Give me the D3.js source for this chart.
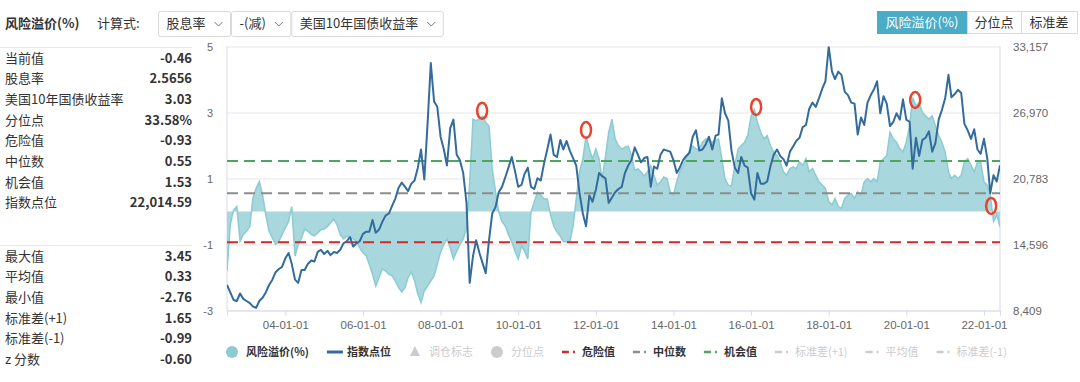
<!DOCTYPE html>
<html>
<head>
<meta charset="utf-8">
<title>风险溢价</title>
<script src="https://cdn.jsdelivr.net/npm/d3@7"></script>
<style>
  body { margin: 0; background: #fff; }
  svg { display: block; font-family: 'Noto Sans CJK SC', 'Noto Sans', sans-serif; }
  .num { font-family: 'Liberation Sans', 'Noto Sans', sans-serif; }
</style>
</head>
<body>
<script>
// monthly points, 2002-07 .. 2022-06 (240 months)
const months = d3.timeMonth.range(new Date(2002, 6, 1), new Date(2022, 6, 1));

// 指数点位 (right axis), one value per month
const indexPoints = [
  10800, 10100, 9400, 9300, 10000, 9500,
  9300, 9100, 8800, 8650, 9300, 9600, 10100, 10800, 11300, 12000, 12300, 12500,
  13300, 13800, 12800, 11300, 11000, 12200, 12200, 12800, 13100, 13000, 13900, 14100,
  13700, 14000, 13600, 13900, 13800, 14100, 14700, 14900, 15300, 14400, 14700, 14900,
  15600, 15800, 15800, 16900, 15700, 16000, 16700, 17300, 17500, 18200, 18900, 19900,
  20400, 20000, 19600, 20300, 20600, 21800, 23500, 20700, 26000, 31600, 28000, 27500,
  24700, 23500, 22000, 25500, 26300, 23000, 22500, 21300, 18500, 11000, 13500, 15000,
  13800, 12800, 11900, 15000, 17500, 18100, 19500, 20000, 20900, 21800, 22800, 21500,
  20000, 20200, 21200, 21800, 20000, 19800, 20800, 20600, 22200, 23500, 24900, 23000,
  22800, 24400, 23500, 24300, 23400, 22700, 22000, 19400, 17500, 16300, 19200, 18600,
  19700, 21300, 21000, 20800, 18500, 19000, 19500, 19800, 20000, 21300, 22000, 22500,
  23700, 23000, 22300, 22700, 22800, 20000, 21900, 21700, 23000, 23500, 23400, 23300,
  22500, 21300, 21800, 22500, 22900, 23200, 24700, 25300, 23400, 23500, 24000, 24700,
  23500, 24800, 24900, 28300, 26900, 26200, 23400, 21800, 21300, 22800, 22000, 21800,
  19400, 18800, 21300, 20300, 20300, 20500, 21900, 23000, 23500, 22900, 22600, 22000,
  23300, 23800, 24300, 24600, 25600, 25800, 27300, 27900, 27500, 28300, 29200, 29900,
  33150, 30800, 30100, 30800, 30500, 28900, 28600, 27900, 27800, 24900, 26500, 25800,
  27900, 28600, 29100, 29900, 26900, 28500, 27800, 25700, 26100, 26900, 26300, 28200,
  26300, 26100, 21700, 24600, 22900, 24400, 24600, 25200, 23300, 24100, 26300, 27200,
  28300, 30500, 28400, 28700, 29100, 28800, 25900, 25300, 24500, 25400, 23500, 23100,
  24500, 22700, 19400, 21100, 20500, 22015
];

// 风险溢价(%) (left axis), one value per month
const riskPremium = [
  -1.8, -0.4, 0.05, 0.15, -0.9, -0.7,
  -0.6, -0.45, 0.4, 0.7, 0.9, 0.5, -0.1, -0.6, -0.8, -1.0, -0.9, -0.7,
  -0.5, -0.3, 0.15, -1.35, -1.0, -0.8, -0.53, -0.6, -0.7, -0.74, -0.65, -0.55,
  -0.53, -0.45, -0.35, -0.23, -0.4, -0.7, -0.83, -0.75, -0.8, -0.83, -0.9, -1.1,
  -1.25, -1.35, -1.6, -1.9, -2.26, -2.0, -1.74, -1.8, -1.9, -1.95, -2.1, -2.3,
  -2.44, -2.3, -2.0, -1.83, -2.1, -2.5, -2.76, -2.4, -2.26, -2.1, -1.95, -1.6,
  -1.23, -1.0, -0.83, -1.1, -1.44, -1.2, -1.0, -0.83, -0.5, 0.89, 2.8, 2.75,
  2.8, 2.89, 2.7, 2.59, 1.29, 0.6, 0.0, -0.3, -0.44, -0.7, -0.92, -1.2,
  -1.44, -1.04, -1.2, -1.44, -0.02, 0.3, 0.59, 0.5, 0.38, 0.38, -0.1, -0.44,
  -0.62, -0.75, -0.92, -0.92, -0.92, -0.44, 0.38, 1.2, 1.59, 2.29, 1.9, 1.59,
  1.89, 1.6, 0.98, 1.68, 2.4, 2.8, 2.2, 2.0, 1.89, 1.95, 1.98, 1.7,
  1.25, 1.29, 1.2, 1.08, 1.2, 1.38, 1.1, 0.8, 0.9, 1.05, 1.0, 0.6,
  0.5, 0.9, 1.2, 1.4, 1.6, 1.85, 1.98, 1.9, 1.89, 2.1, 2.2, 2.15,
  2.1, 2.15, 2.2, 1.6, 0.98, 0.8, 0.77, 1.4, 1.89, 2.0, 2.1, 2.3,
  2.89, 3.1, 2.7, 2.4, 2.2, 2.3, 2.0, 1.8, 1.7, 1.5, 1.2, 1.1,
  1.3, 1.35, 1.3, 1.5, 1.4, 1.6, 1.2, 1.3, 1.1, 0.9, 0.8, 0.7,
  0.3, 0.2, 0.4, 0.15, 0.1, 0.4, 0.5, 0.55, 0.4, 0.6, 0.5, 0.9,
  1.0, 0.9, 1.0, 0.9, 1.5, 1.6, 1.7, 2.4, 2.2, 2.1, 1.9, 1.8,
  2.1, 2.6, 3.45, 3.2, 3.3, 3.0, 2.9, 2.8, 2.9, 2.6, 2.3, 2.1,
  1.8, 1.2, 1.0, 1.1, 1.0, 1.1, 1.5, 1.6, 1.4, 1.2, 1.5, 1.5,
  0.9, 0.8, 0.5, -0.3, -0.1, -0.46
];

// dashed reference lines
const refNames = ['危险值', '中位数', '机会值'];
const refValues = [-0.93, 0.55, 1.53];

// red ring annotations
const markDates = ['2009-01-26', '2011-10-01', '2016-02-18', '2020-03-25', '2022-03-10'];
const markValues = [3.05, 2.47, 3.17, 3.38, 0.17];

// axis ticks
const leftTicks = [-3, -1, 1, 3, 5];
const rightTicks = [8409, 14596, 20783, 26970, 33157];

// left panel
const statLabels = ['当前值', '股息率', '美国10年国债收益率', '分位点', '危险值', '中位数', '机会值', '指数点位'];
const statValues = ['-0.46', '2.5656', '3.03', '33.58%', '-0.93', '0.55', '1.53', '22,014.59'];
const summaryLabels = ['最大值', '平均值', '最小值', '标准差(+1)', '标准差(-1)', 'z 分数'];
const summaryValues = ['3.45', '0.33', '-2.76', '1.65', '-0.99', '-0.60'];

// header
const formulaParts = ['股息率', '-(减)', '美国10年国债收益率'];
const viewButtons = ['风险溢价(%)', '分位点', '标准差'];

// legend
const legendNames = ['风险溢价(%)', '指数点位', '调仓标志', '分位点', '危险值', '中位数', '机会值', '标准差(+1)', '平均值', '标准差(-1)'];
const legendOn = [true, true, false, false, true, true, true, false, false, false];

const COLORS = {
  area: '#a8d7dd',
  areaLine: '#8ccbd4',
  index: '#336c9c',
  ref: ['#cc2b2b', '#8c8c8c', '#4ea55d'],
  off: '#cccccc',
  text: '#333333',
  axis: '#666666',
  grid: '#e6e6e6',
  frame: '#d5dbe8',
  accent: '#4aacc6'
};

const W = 1080, H = 382;
const plot = { left: 227, right: 1000, top: 46.5, bottom: 310.5 };

const svg = d3.select('body').append('svg').attr('width', W).attr('height', H);

// ---------- header ----------
svg.append('text').attr('x', 5).attr('y', 28)
  .attr('font-size', 13).attr('font-weight', 'bold').attr('fill', COLORS.text)
  .text('风险溢价(%)');
svg.append('text').attr('x', 97).attr('y', 28)
  .attr('font-size', 13).attr('fill', COLORS.text).text('计算式:');

// dropdown boxes, each one as wide as its text
let bx = 158.5;
formulaParts.forEach((label) => {
  const g = svg.append('g');
  const t = g.append('text').attr('x', bx + 8).attr('y', 28)
    .attr('font-size', 13).attr('fill', COLORS.text).text(label);
  const tw = t.node().getComputedTextLength();
  const bw = tw + 33;
  g.insert('rect', 'text').attr('x', bx).attr('y', 11.5).attr('width', bw).attr('height', 25)
    .attr('rx', 2).attr('fill', '#fff').attr('stroke', '#d9d9d9');
  const cx = bx + bw - 16;
  g.append('path').attr('d', `M${cx},22 l4,4 l4,-4`)
    .attr('fill', 'none').attr('stroke', '#777').attr('stroke-width', 1);
  bx += bw + 1;
});

// view switch buttons (top right)
const btnX = [877, 967, 1021, 1077];
viewButtons.forEach((label, i) => {
  svg.append('rect').attr('x', btnX[i] + 0.5).attr('y', 11.5)
    .attr('width', btnX[i + 1] - btnX[i]).attr('height', 22)
    .attr('fill', i === 0 ? COLORS.accent : '#fff').attr('stroke', i === 0 ? COLORS.accent : '#d9d9d9');
  svg.append('text').attr('x', (btnX[i] + btnX[i + 1]) / 2).attr('y', 27)
    .attr('text-anchor', 'middle').attr('font-size', 13)
    .attr('fill', i === 0 ? '#fff' : COLORS.text).text(label);
});

// ---------- left panel ----------
function drawStats(labels, values, topY, lineY) {
  svg.append('line').attr('x1', 0).attr('x2', 192).attr('y1', lineY).attr('y2', lineY)
    .attr('stroke', '#e8e8e8');
  labels.forEach((label, i) => {
    const y = topY + i * 20.7;
    svg.append('text').attr('x', 5).attr('y', y).attr('dy', '0.35em')
      .attr('font-size', 13).attr('fill', COLORS.text).text(label);
    svg.append('text').attr('x', 192).attr('y', y).attr('dy', '0.35em')
      .attr('text-anchor', 'end').attr('font-size', 13).attr('font-weight', 'bold')
      .attr('fill', COLORS.text).text(values[i]);
  });
}
drawStats(statLabels, statValues, 58, 47.5);
drawStats(summaryLabels, summaryValues, 256, 245.5);

// ---------- scales ----------
const x = d3.scaleTime().domain([months[0], months[months.length - 1]]).range([plot.left, plot.right]);
const yLeft = d3.scaleLinear().domain([-3, 5]).range([plot.bottom, plot.top]);
const yRight = d3.scaleLinear().domain([8409, 33157]).range([plot.bottom, plot.top]);

// grid + left labels
const gridAxis = svg.append('g').attr('transform', `translate(${plot.left},0)`)
  .call(d3.axisLeft(yLeft).tickValues(leftTicks).tickSize(-(plot.right - plot.left))
    .tickPadding(14).tickFormat((d) => String(d)));
gridAxis.select('.domain').remove();
gridAxis.selectAll('line').attr('stroke', COLORS.grid);
gridAxis.selectAll('text').attr('class', 'num').attr('font-size', 11).attr('fill', COLORS.axis);

// right labels
const rightAxis = svg.append('g').attr('transform', `translate(${plot.right},0)`)
  .call(d3.axisRight(yRight).tickValues(rightTicks).tickSize(0).tickPadding(13).tickFormat(d3.format(',')));
rightAxis.select('.domain').remove();
rightAxis.selectAll('text').attr('class', 'num').attr('font-size', 11.5).attr('fill', COLORS.axis);

// frame (left + right sides)
[plot.left, plot.right].forEach((fx) => {
  svg.append('line').attr('x1', fx).attr('x2', fx).attr('y1', plot.top).attr('y2', plot.bottom)
    .attr('stroke', COLORS.frame);
});

// bottom axis
const bottomAxis = svg.append('g').attr('transform', `translate(0,${plot.bottom})`)
  .call(d3.axisBottom(x).ticks(d3.timeYear.every(2)).tickSize(5).tickPadding(5)
    .tickFormat(d3.timeFormat('%y-%m-%d')));
bottomAxis.selectAll('.domain, line').attr('stroke', COLORS.frame);
bottomAxis.selectAll('text').attr('class', 'num').attr('font-size', 11.5).attr('fill', COLORS.axis);

// ---------- series ----------
const premiumData = months.map((d, i) => ({ date: d, value: riskPremium[i] }));
const indexData = months.map((d, i) => ({ date: d, value: indexPoints[i] }));

svg.append('clipPath').attr('id', 'plot-clip').append('rect')
  .attr('x', plot.left).attr('y', plot.top)
  .attr('width', plot.right - plot.left).attr('height', plot.bottom - plot.top);

const chart = svg.append('g').attr('clip-path', 'url(#plot-clip)');

// 风险溢价 area, filled towards 0
chart.append('path').datum(premiumData)
  .attr('fill', COLORS.area)
  .attr('d', d3.area().x((d) => x(d.date)).y0(yLeft(0)).y1((d) => yLeft(d.value)));
chart.append('path').datum(premiumData)
  .attr('fill', 'none').attr('stroke', COLORS.areaLine).attr('stroke-width', 1.5)
  .attr('d', d3.line().x((d) => x(d.date)).y((d) => yLeft(d.value)));

// dashed reference lines
refValues.forEach((v, i) => {
  chart.append('line')
    .attr('x1', plot.left).attr('x2', plot.right)
    .attr('y1', yLeft(v)).attr('y2', yLeft(v))
    .attr('stroke', COLORS.ref[i]).attr('stroke-width', 2).attr('stroke-dasharray', '11,6');
});

// 指数点位 line
chart.append('path').datum(indexData)
  .attr('fill', 'none').attr('stroke', COLORS.index).attr('stroke-width', 2)
  .attr('stroke-linejoin', 'round')
  .attr('d', d3.line().x((d) => x(d.date)).y((d) => yRight(d.value)));

// red rings
svg.selectAll('ellipse.mark')
  .data(markDates)
  .enter()
  .append('ellipse')
  .attr('class', 'mark')
  .attr('cx', (d) => x(new Date(d)))
  .attr('cy', (d, i) => yLeft(markValues[i]))
  .attr('rx', 5).attr('ry', 8)
  .attr('fill', 'none').attr('stroke', '#e8432c').attr('stroke-width', 2.5);

// ---------- legend ----------
const legendY = 352;
let lx = 226;
legendNames.forEach((name, i) => {
  const col = legendOn[i] ? null : COLORS.off;
  const g = svg.append('g');
  if (i === 0) {
    g.append('circle').attr('cx', lx + 6).attr('cy', legendY).attr('r', 6).attr('fill', col || COLORS.areaLine);
  } else if (i === 1) {
    g.append('line').attr('x1', lx).attr('x2', lx + 16).attr('y1', legendY).attr('y2', legendY)
      .attr('stroke', COLORS.index).attr('stroke-width', 3);
  } else if (i === 2) {
    g.append('path').attr('d', `M${lx + 6},${legendY - 6} l5,10 h-10 z`).attr('fill', COLORS.off);
  } else if (i === 3) {
    g.append('circle').attr('cx', lx + 6).attr('cy', legendY).attr('r', 6).attr('fill', COLORS.off);
  } else {
    const c = i <= 6 ? COLORS.ref[i - 4] : COLORS.off;
    g.append('line').attr('x1', lx).attr('x2', lx + 17).attr('y1', legendY).attr('y2', legendY)
      .attr('stroke', c).attr('stroke-width', 2.5).attr('stroke-dasharray', '7,4,2,4');
  }
  const t = g.append('text').attr('x', lx + 20).attr('y', legendY).attr('dy', '0.35em')
    .attr('font-size', 11).attr('font-weight', legendOn[i] ? 'bold' : 'normal')
    .attr('fill', col || COLORS.text).text(name);
  lx += 20 + t.node().getComputedTextLength() + 18;
});
</script>
</body>
</html>
